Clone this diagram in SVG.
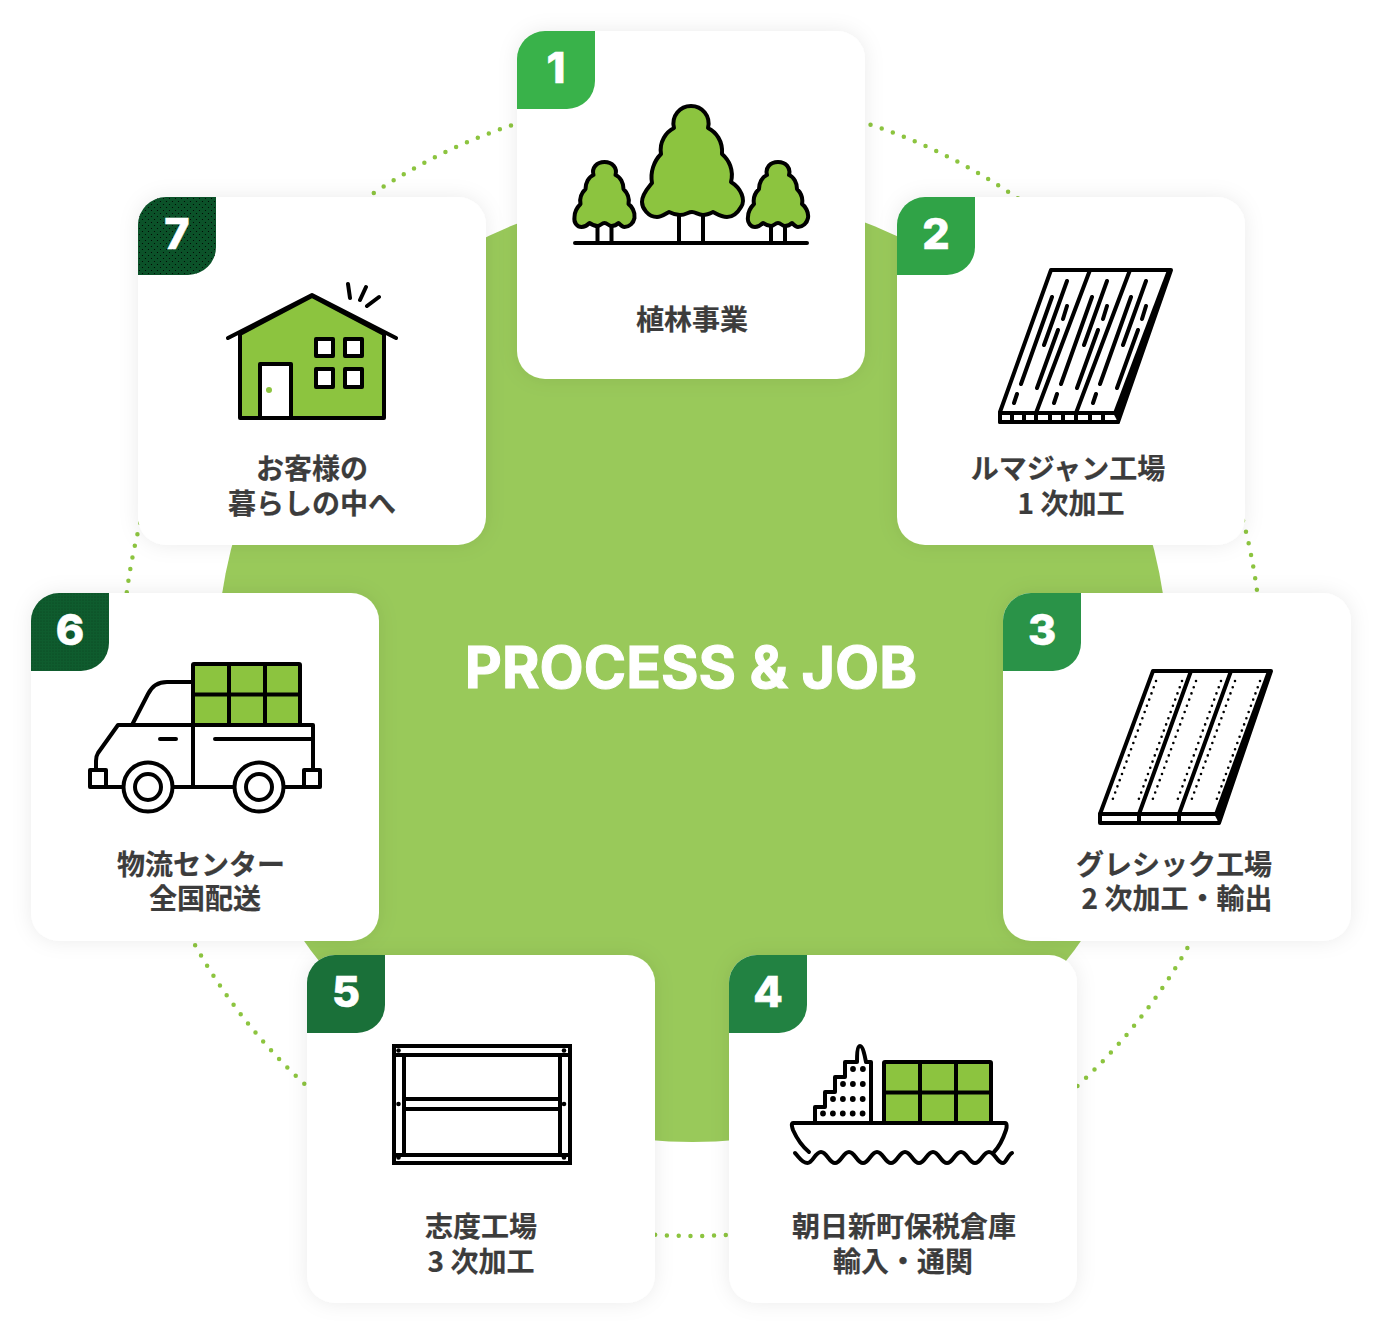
<svg xmlns="http://www.w3.org/2000/svg" width="1382" height="1334" viewBox="0 0 1382 1334">
<defs>
<style>
.card{fill:#fff;filter:url(#sh)}
.lbl{font-family:"Noto Sans CJK JP","Noto Sans",sans-serif;font-weight:700;font-size:28px;fill:#3c3c3c;stroke:#3c3c3c;stroke-width:.2;text-anchor:middle}
.num{font-family:"Inter","Liberation Sans",sans-serif;font-weight:800;font-size:43px;fill:#fff;stroke:#fff;stroke-width:.6;text-anchor:middle}
.k{fill:none;stroke:#000;stroke-width:4;stroke-linecap:round;stroke-linejoin:round}
.kg{fill:#8cc43f;stroke:#000;stroke-width:4;stroke-linecap:round;stroke-linejoin:round}
.kw{fill:#fff;stroke:#000;stroke-width:4;stroke-linecap:round;stroke-linejoin:round}
</style>
<filter id="sh" x="-20%" y="-20%" width="140%" height="140%"><feDropShadow dx="0" dy="0" stdDeviation="10" flood-color="#000" flood-opacity="0.08"/></filter>
<pattern id="dots" width="6" height="6" patternUnits="userSpaceOnUse"><circle cx="1.500" cy="1.500" r=".6" fill="#000"/><circle cx="4.500" cy="4.500" r=".6" fill="#000"/></pattern>
<pattern id="dots2" width="3" height="3" patternUnits="userSpaceOnUse"><circle cx="1" cy="1" r=".5" fill="#000" fill-opacity=".35"/></pattern>
<path id="badge" d="M0 78V28A28 28 0 0 1 28 0H78V50A28 28 0 0 1 50 78Z"/>
<path id="smalltree" class="kg" d="M-11 13C-13 6-8 0 0 0 8 0 13 6 11 13C16 15 19 21 19 27C23 31 25 37 24 42C27 44 31 50 30 56C29 61 25 65 20 65C18 65 16 63 14 61C12 63 10 64 7 64 4 64 3 61 0 61-3 61-4 64-7 64-10 64-12 63-15 61-17 63-19 65-23 65-27 65-31 61-30 55-30 50-27 45-24 42-25 37-23 31-19 27-19 21-16 15-11 13Z"/>
<g id="greenbox"><rect class="kg" x="0" y="0" width="107" height="61" rx="1"/><path class="k" d="M36 0V61M72 0V61M0 30.500H107"/></g>
</defs>

<circle id="bg-disc" cx="692.500" cy="666" r="476" fill="#99c95a"/>
<g id="connectors"><circle cx="692" cy="666" r="570" fill="none" stroke="#8cc43f" stroke-width="4.500" stroke-linecap="round" stroke-dasharray="0 11.8"/></g>
<text id="title" x="691" y="688" font-family="Inter,'Liberation Sans',sans-serif" font-weight="700" font-size="57.300" fill="#fff" stroke="#fff" stroke-width="1" text-anchor="middle">PROCESS &amp; JOB</text>

<g id="node1">
<rect class="card" x="517" y="31" width="348" height="348" rx="28"/>
<use href="#badge" x="517" y="31" fill="#39b24a"/>
<text class="num" x="556" y="83">1</text>
<path class="k" d="M597.500 226V243M611.500 226V243M771 226V243M785 226V243M679 216V243M703 216V243M575 243H807"/>
<use href="#smalltree" x="604.500" y="162"/>
<use href="#smalltree" x="778" y="162"/>
<path class="kg" d="M674 128C671 116 680 106 691 106C702 106 711 116 708 128C716 132 723 141 722 154C729 160 734 170 731 182C741 188 746 200 741 207C737 214 732 217 727 217C721 217 717 214 713 212C709 214 707 215 703 215C698 215 696 212 692 212C688 212 686 215 680 215C676 215 673 214 669 212C665 214 662 217 657 217C648 217 642 208 642 202C642 194 648 188 652 183C650 172 654 161 661 154C659 142 666 132 674 128Z"/>
<text class="lbl" x="692" y="330">植林事業</text>
</g>

<g id="node2">
<rect class="card" x="897" y="197" width="348" height="348" rx="28"/>
<use href="#badge" x="897" y="197" fill="#30a347"/>
<text class="num" x="936" y="249">2</text>
<path class="kw" d="M1051 270H1171L1118 422H1000V412Z"/>
<path d="M1171 270L1118 422L1113 413L1167 270Z" fill="#000"/>
<path class="k" d="M1000 413H1118M1090 270L1036 413M1130 270L1076 413M1000 422H1118M1012 413V422M1024 413V422M1036 413V422M1050 413V422M1063 413V422M1076 413V422M1090 413V422M1103 413V422"/>
<path class="k" d="M1067 281L1044 345M1052 297L1021 384M1067 306L1063 319M1058 330L1037 388M1017 394L1014 403M1107 281L1084 345M1092 297L1061 384M1107 306L1103 319M1098 330L1077 388M1057 394L1054 403M1146 281L1123 345M1131 297L1100 384M1146 306L1142 319M1138 330L1117 388M1096 394L1093 403"/>
<text class="lbl" text-anchor="middle"><tspan x="1068" y="479">ルマジャン工場</tspan><tspan x="1071" y="514">1 次加工</tspan></text>
</g>

<g id="node3">
<rect class="card" x="1003" y="593" width="348" height="348" rx="28"/>
<use href="#badge" x="1003" y="593" fill="#2a9348"/>
<text class="num" x="1042" y="645">3</text>
<path class="kw" d="M1153 671H1271L1219 823H1100V814Z"/>
<path d="M1271 671L1219 823L1214 814L1267 671Z" fill="#000"/>
<path class="k" d="M1100 814H1219M1191 671L1139 814M1231 671L1179 814M1139 814V823M1179 814V823"/>
<path fill="none" stroke="#000" stroke-width="2.600" stroke-linecap="round" stroke-dasharray="0 6.600" d="M1156 681L1111 804M1182 681L1137 804M1196 681L1151 804M1221 681L1176 804M1235 681L1190 804M1260 681L1215 804"/>
<text class="lbl"><tspan x="1174" y="875">グレシック工場</tspan><tspan x="1177" y="909">2 次加工・輸出</tspan></text>
</g>

<g id="node4">
<rect class="card" x="729" y="955" width="348" height="348" rx="28"/>
<use href="#badge" x="729" y="955" fill="#228242"/>
<text class="num" x="768" y="1007">4</text>
<use href="#greenbox" x="884" y="1062"/>
<path class="kw" d="M815 1123V1107H825V1092H835V1077H845V1062H857C857 1057 857 1046 860 1046 863 1046 865 1057 866 1062H871V1123Z"/>
<path fill="none" stroke="#000" stroke-width="5.800" stroke-linecap="round" stroke-dasharray="0 9.900" d="M823 1113.500H864M833 1099H864M843 1084H864M853 1069H864"/>
<path class="k" d="M809 1152C803 1147 797 1139 793 1130 792 1127 791 1123 793 1123H1005C1007 1123 1007 1127 1006 1130 1003 1139 999 1147 994 1152"/>
<path class="k" d="M795 1153C799 1157 802 1163 807.500 1163C813 1163 815 1152 821 1152s8 11 14 11 8-11 14-11 8 11 14 11 8-11 14-11 8 11 14 11 8-11 14-11 8 11 14 11 8-11 14-11 8 11 14 11 8-11 14-11 8 11 14 11 8-11 14-11 8 11 14 11C1006 1163 1008 1155 1012 1153"/>
<text class="lbl"><tspan x="904" y="1237">朝日新町保税倉庫</tspan><tspan x="903" y="1272">輸入・通関</tspan></text>
</g>

<g id="node5">
<rect class="card" x="307" y="955" width="348" height="348" rx="28"/>
<use href="#badge" x="307" y="955" fill="#1a7039"/>
<text class="num" x="346" y="1007">5</text>
<path fill="none" stroke="#000" stroke-width="4" d="M394 1046H570V1163H394ZM394 1055H570M394 1155H570M404 1055V1155M560 1055V1155M404 1099H560M404 1109H560"/>
<g fill="#000"><circle cx="398.500" cy="1050.500" r="2.300"/><circle cx="564" cy="1050.500" r="2.300"/><circle cx="398.500" cy="1104" r="2.300"/><circle cx="564" cy="1104" r="2.300"/><circle cx="398.500" cy="1157.500" r="2.300"/><circle cx="564" cy="1157.500" r="2.300"/></g>
<text class="lbl"><tspan x="481" y="1237">志度工場</tspan><tspan x="481" y="1272">3 次加工</tspan></text>
</g>

<g id="node6">
<rect class="card" x="31" y="593" width="348" height="348" rx="28"/>
<use href="#badge" x="31" y="593" fill="#0f5c2e"/>
<use href="#badge" x="31" y="593" fill="url(#dots2)"/>
<text class="num" x="70" y="645">6</text>
<use href="#greenbox" x="193" y="664"/>
<path class="k" d="M193 682H167C158 682 152 686 148 694L132 725M193 725H118L98 753C96 756 96 757 96 761V769M193 725H313V769M193 725V787M160 739H176M215 739H311M107 787H124M173 787H234M283 787H304M90 770H106V787H90ZM304 770H320V787H304Z"/>
<circle class="kw" cx="148" cy="787" r="24.500"/><circle class="kw" cx="148" cy="787" r="13"/>
<circle class="kw" cx="259" cy="787" r="24.500"/><circle class="kw" cx="259" cy="787" r="13"/>
<text class="lbl"><tspan x="201" y="875">物流センター</tspan><tspan x="205" y="909">全国配送</tspan></text>
</g>

<g id="node7">
<rect class="card" x="138" y="197" width="348" height="348" rx="28"/>
<use href="#badge" x="138" y="197" fill="#0b5229"/>
<use href="#badge" x="138" y="197" fill="url(#dots)"/>
<text class="num" x="177" y="249">7</text>
<path class="kg" d="M240 334L312 296L384 334V418H240Z"/>
<path class="k" d="M228 338L312 295L396 338M348 284L350 298M366 287L360 300M379 297L367 306"/>
<rect class="kw" x="260" y="364" width="31" height="54"/>
<circle cx="269" cy="390" r="3" fill="#8cc43f"/>
<path class="kw" d="M316 339H333V356H316ZM345 339H362V356H345ZM316 369H333V387H316ZM345 369H362V387H345Z"/>
<text class="lbl"><tspan x="312" y="479">お客様の</tspan><tspan x="312" y="514">暮らしの中へ</tspan></text>
</g>
</svg>
